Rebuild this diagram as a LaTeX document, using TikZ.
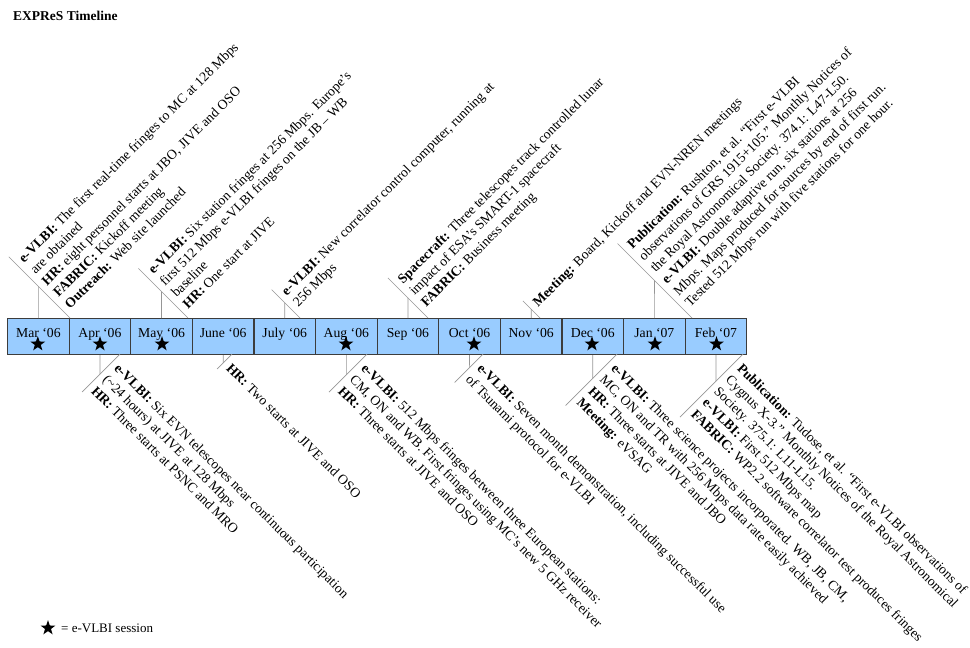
\documentclass[tikz,border=0pt]{standalone}
\usepackage{fontspec}
\setmainfont{Liberation Serif}
\usepackage{tikz}
\usetikzlibrary{shapes.geometric}
\definecolor{barblue}{RGB}{153,204,255}
\definecolor{bardark}{RGB}{60,60,60}
\definecolor{leadgray}{RGB}{150,150,150}

\tikzset{
  cell/.style={draw=bardark, fill=barblue, line width=1.1, minimum width=61.6, minimum height=36,
    inner sep=0, text height=10, text depth=8},
  estar/.style={star, star points=5, star point ratio=2.5, fill=black, inner sep=0, minimum size=15.6},
  uptext/.style={rotate=45, anchor=south west, align=left, inner xsep=6, inner ysep=5.5},
  dntext/.style={rotate=-45, anchor=north west, align=left, inner xsep=6, inner ysep=5.5},
  lead/.style={draw=leadgray, line width=0.7}
}

\begin{document}
\begin{tikzpicture}[x=1pt, y=-1pt, font=\fontsize{13.7}{16.3}\selectfont]
  \useasboundingbox (0,0) rectangle (970,648);

  % Title
  \node[anchor=west, inner sep=0, font=\fontsize{13.5}{16}\selectfont\bfseries] (title) at (13,16) {EXPReS Timeline};

  % Month bar
  \foreach \mo [count=\i] in {Mar `06, Apr `06, May `06, June `06, July `06, Aug `06,
      Sep `06, Oct `06, Nov `06, Dec `06, Jan `07, Feb `07}
    \node[cell, anchor=north west] (m\i) at ({7+61.6*(\i-1)},318) {\mo};

  % e-VLBI sessions
  \node[estar] (st1) at (37.8,344) {};
  \node[estar] (st2) at (100,344) {};
  \node[estar] (st3) at (162,344) {};
  \node[estar] (st6) at (346,344) {};
  \node[estar] (st8) at (474,344) {};
  \node[estar] (st10) at (592,344) {};
  \node[estar] (st11) at (655,344) {};
  \node[estar] (st12) at (716.5,344) {};

  % Events above the bar
  \node[uptext] (mar-up) at (70,318) {\textbf{e-VLBI:} The first real-time fringes to MC at 128 Mbps\\
    are obtained\\
    \textbf{HR:} eight personnel starts at JBO, JIVE and OSO\\
    \textbf{FABRIC:} Kickoff meeting\\
    \textbf{Outreach:} Web site launched};
  \node[uptext] (may-up) at (188,318) {\textbf{e-VLBI:} Six station fringes at 256 Mbps. Europe's\\
    first 512 Mbps e-VLBI fringes on the JB -- WB\\
    baseline\\
    \textbf{HR:} One start at JIVE};
  \node[uptext] (jul-up) at (300,318) {\textbf{e-VLBI:} New correlator control computer, running at\\
    256 Mbps};
  \node[uptext] (sep-up) at (428,318) {\textbf{Spacecraft:} Three telescopes track controlled lunar\\
    impact of ESA's SMART-1 spacecraft\\
    \textbf{FABRIC:} Business meeting};
  \node[uptext] (nov-up) at (540,318) {\textbf{Meeting:} Board, Kickoff and EVN-NREN meetings};
  \node[uptext] (jan-up) at (692,318) {\textbf{Publication:} Rushton, et al. ``First e-VLBI\\
    observations of GRS 1915+105.'' Monthly Notices of\\
    the Royal Astronomical Society. 374.1: L47-L50.\\
    \textbf{e-VLBI:} Double adaptive run, six stations at 256\\
    Mbps. Maps produced for sources by end of first run.\\
    Tested 512 Mbps run with five stations for one hour.};

  % Events below the bar
  \node[dntext] (apr-dn) at (120,354) {\textbf{e-VLBI:} Six EVN telescopes near continuous participation\\
    (\textasciitilde24 hours) at JIVE at 128 Mbps\\
    \textbf{HR:} Three starts at PSNC and MRO};
  \node[dntext] (jun-dn) at (232,354) {\textbf{HR:} Two starts at JIVE and OSO};
  \node[dntext] (aug-dn) at (367,354) {\textbf{e-VLBI:} 512 Mbps fringes between three European stations:\\
    CM, ON and WB. First fringes using MC's new 5 GHz receiver\\
    \textbf{HR:} Three starts at JIVE and OSO};
  \node[dntext] (oct-dn) at (483,354) {\textbf{e-VLBI:} Seven month demonstration, including successful use\\
    of Tsunami protocol for e-VLBI};
  \node[dntext] (dec-dn) at (617,354) {\textbf{e-VLBI:} Three science projects incorporated. WB, JB, CM,\\
    MC, ON and TR with 256 Mbps data rate easily achieved\\
    \textbf{HR:} Three starts at JIVE and JBO\\
    \textbf{Meeting:} eVSAG};
  \node[dntext] (feb-dn) at (743,354) {\textbf{Publication:} Tudose, et al. ``First e-VLBI observations of\\
    Cygnus X-3.'' Monthly Notices of the Royal Astronomical\\
    Society. 375.1: L11-L15.\\
    \textbf{e-VLBI:} First 512 Mbps map\\
    \textbf{FABRIC:} WP2.2 software correlator test produces fringes};

  % Leader lines
  \foreach \ev/\c in {mar-up/1, may-up/3, jul-up/5, sep-up/7, nov-up/9, jan-up/11} {
    \draw[lead] (\ev.south west) -- (\ev.north west);
    \draw[lead] (m\c.north) -- (intersection of m\c.north--m\c.center and \ev.south west--\ev.north west);
  }
  \foreach \ev/\c in {apr-dn/2, jun-dn/4, aug-dn/6, oct-dn/8, dec-dn/10, feb-dn/12} {
    \draw[lead] (\ev.north west) -- (\ev.south west);
    \draw[lead] (m\c.south) -- (intersection of m\c.south--m\c.center and \ev.north west--\ev.south west);
  }

  % Legend
  \node[estar] (key) at (48,628) {};
  \node[anchor=west, inner sep=0, font=\fontsize{13}{15}\selectfont] (keytext) at (61,628) {= e-VLBI session};
\end{tikzpicture}
\end{document}
